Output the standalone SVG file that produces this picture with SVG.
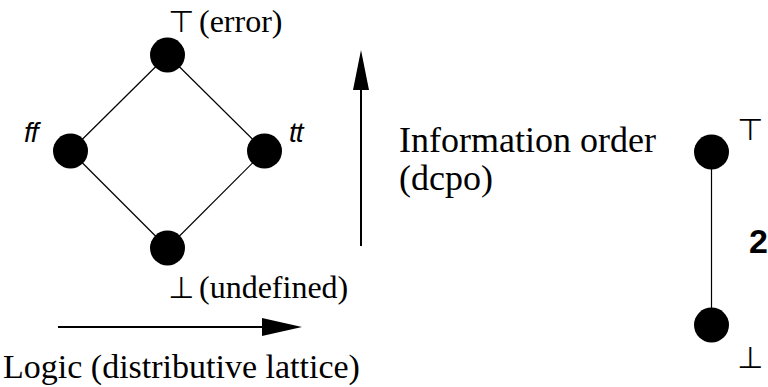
<svg xmlns="http://www.w3.org/2000/svg" width="768" height="387" viewBox="0 0 768 387">
<style>
.node{fill:#000}
.edge{stroke:#000;stroke-width:1.2;fill:none}
.arr{stroke:#000;stroke-width:2;fill:none}
.head{fill:#000}
.t{font-family:"Liberation Serif","Times New Roman",serif;font-size:32px;fill:#000}
.big{font-size:36px}
.lg{font-size:34px}
.sym{font-family:"DejaVu Sans",sans-serif;font-size:30px;fill:#000}
.it{font-family:"Liberation Sans",Arial,sans-serif;font-style:italic;font-size:28px;fill:#000;letter-spacing:-1px}
.b{font-family:"Liberation Sans",Arial,sans-serif;font-weight:bold;font-size:34px;fill:#000}
</style>
<rect width="768" height="387" fill="#fff"/>
<g id="connectors">
<line class="edge" x1="167.5" y1="55" x2="70.5" y2="151"/>
<line class="edge" x1="167.5" y1="55" x2="264.5" y2="151"/>
<line class="edge" x1="70.5" y1="151" x2="167.5" y2="248"/>
<line class="edge" x1="264.5" y1="151" x2="167.5" y2="248"/>
<line class="edge" x1="711.5" y1="152" x2="711.5" y2="325"/>
<line class="arr" x1="361" y1="246" x2="361" y2="85"/>
<polygon class="head" points="361,50 353,90 369,90"/>
<line class="arr" x1="58" y1="327" x2="265" y2="327"/>
<polygon class="head" points="302,327 262,318 262,336"/>
</g>
<g id="top"><circle class="node" cx="167.5" cy="55" r="17.5"/>
<text class="sym" x="168" y="32">⊤</text><text class="t" x="199" y="32">(error)</text></g>
<g id="ff"><circle class="node" cx="70.5" cy="151" r="17.5"/><text class="it" x="24" y="142">ff</text></g>
<g id="tt"><circle class="node" cx="264.5" cy="151" r="17.5"/><text class="it" x="289" y="142">tt</text></g>
<g id="bottom"><circle class="node" cx="167.5" cy="248" r="17.5"/>
<text class="sym" x="168" y="298">⊥</text><text class="t" x="199" y="298">(undefined)</text></g>
<g id="info"><text class="t big" x="399" y="152">Information order</text><text class="t big" x="399" y="190">(dcpo)</text></g>
<g id="logic"><text class="t lg" x="3" y="378">Logic (distributive lattice)</text></g>
<g id="two-top"><circle class="node" cx="711.5" cy="152" r="17.5"/><text class="sym" x="737" y="140">⊤</text></g>
<g id="two-bottom"><circle class="node" cx="711.5" cy="325" r="17.5"/><text class="sym" x="737" y="368">⊥</text></g>
<g id="two-label"><text class="b" x="749" y="253">2</text></g>
</svg>
